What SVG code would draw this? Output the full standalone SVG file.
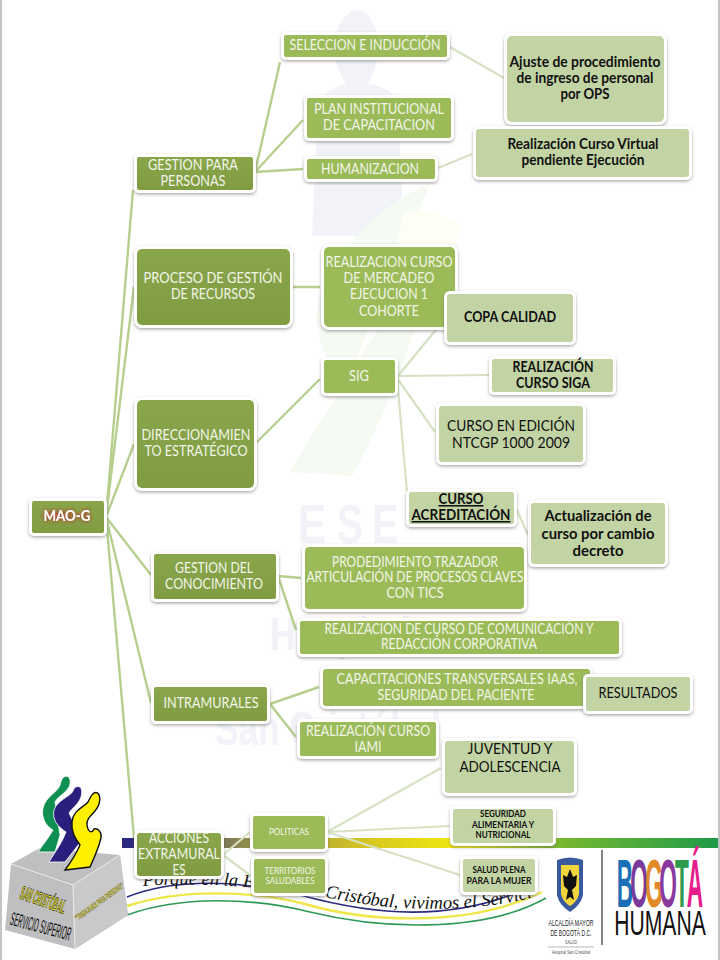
<svg xmlns="http://www.w3.org/2000/svg" width="720" height="960" viewBox="0 0 720 960">
<style>
text{font-family:"Lato","Liberation Sans",sans-serif;text-anchor:middle}
.n rect{stroke:#fff;stroke-width:6;paint-order:stroke;filter:url(#sh)}
.a rect{fill:url(#dk)}
.b rect{fill:#9bbb59}
.c rect{fill:#c3d4a4}
.a text,.b text{fill:#f2f5e8;font-size:15px}
.c text{fill:#111;font-size:15px;font-weight:700}
.c text.r{font-weight:400;font-size:16px}
.n text.s{font-size:8.5px}
.k{stroke:#b6cf8e;stroke-width:2.4;fill:none}
.l{stroke:#d6e2c3;stroke-width:2.2;fill:none}
.w{fill:#f2f3f8;font-family:"Liberation Sans",sans-serif;font-weight:700}
.ls{font-family:"Liberation Sans",sans-serif}
</style>
<defs>
<filter id="sh" x="-20%" y="-20%" width="140%" height="150%"><feDropShadow dx="0" dy="1.5" stdDeviation="1.5" flood-color="#555" flood-opacity=".5"/></filter>
<filter id="gl" x="-20%" y="-30%" width="140%" height="160%"><feGaussianBlur in="SourceAlpha" stdDeviation="2"/><feComponentTransfer result="a"><feFuncA type="linear" slope="1.6"/></feComponentTransfer><feFlood flood-color="#c0392b"/><feComposite in2="a" operator="in"/><feMerge><feMergeNode/><feMergeNode in="SourceGraphic"/></feMerge></filter>
<linearGradient id="dk" x1="0" y1="0" x2="0" y2="1"><stop offset="0" stop-color="#89a64b"/><stop offset="1" stop-color="#7f9c42"/></linearGradient>
<linearGradient id="bar" x1="0" y1="0" x2="1" y2="0"><stop offset="0" stop-color="#2b2a80"/><stop offset=".06" stop-color="#2b2a80"/><stop offset=".2" stop-color="#8f8a4e"/><stop offset=".42" stop-color="#d8c820"/><stop offset=".58" stop-color="#f4ee10"/><stop offset=".72" stop-color="#7dbb2e"/><stop offset="1" stop-color="#1f9a48"/></linearGradient>
<path id="arc" d="M143,886C230,880 300,893 370,905C420,911 480,911 535,897"/>
</defs>
<rect width="720" height="960" fill="#fff"/>
<rect x="0" y="0" width="2" height="960" fill="#c4c4c4"/>
<rect x="718" y="0" width="2" height="960" fill="#c4c4c4"/>

<g id="watermark">
<path d="M357,10C368,10 375,24 378,38C381,55 374,72 368,84C384,86 394,92 400,104L400,170C404,190 402,205 396,222L376,236L312,236L315,170L318,110C320,95 332,87 346,84C338,72 332,54 335,38C338,24 346,10 357,10Z" fill="#f2f3f8"/>
<path d="M430,184C385,200 335,250 318,300C312,330 325,360 345,385C360,350 400,300 440,250C425,300 395,400 352,476L290,472C320,420 345,385 345,385" fill="#f5faf3"/>
<path d="M402,214C420,205 440,215 458,224C460,245 448,260 436,270L395,255Z" fill="#fefef4"/>
<text class="w" x="312" y="543" font-size="55" textLength="28" lengthAdjust="spacingAndGlyphs">E</text>
<text class="w" x="350" y="543" font-size="55" textLength="26" lengthAdjust="spacingAndGlyphs">S</text>
<text class="w" x="385" y="543" font-size="55" textLength="26" lengthAdjust="spacingAndGlyphs">E</text>
<text class="w" x="340" y="650" font-size="46" textLength="140" lengthAdjust="spacingAndGlyphs">Hospital</text>
<text class="w" x="328" y="745" font-size="48" textLength="226" lengthAdjust="spacingAndGlyphs">San Cristóbal</text>
</g>

<g id="banner">
<rect x="122" y="838" width="596" height="10" fill="url(#bar)"/>
<path d="M127,897C170,880 230,878 300,895C370,914 450,925 535,885" fill="none" stroke="#2b2a80" stroke-width="1.6"/>
<path d="M127,906C180,889 250,890 305,904C370,923 470,927 542,892" fill="none" stroke="#efe64a" stroke-width="2.4"/>
<path d="M127,915C180,896 250,897 310,912C375,928 480,935 546,898" fill="none" stroke="#2f9a57" stroke-width="1.6"/>
<text font-size="18.5" font-style="italic" fill="#111" style="font-family:'Liberation Serif',serif;text-anchor:start"><textPath href="#arc">Porque en la E.S.E. San Cristóbal, vivimos el Servicio</textPath></text>
</g>

<g id="logo-san-cristobal">
<path d="M11,864L40,848L120,855L128,915L75,949L5,930Z" fill="#bfbfc1"/>
<path d="M73,885L120,855L128,915L75,949Z" fill="#c9c9cb"/>
<path d="M11,864L73,885L120,855M73,885L75,949" stroke="#ececec" stroke-width="1" fill="none"/>
<path d="M64,777C69,774 72,780 69,787C65,794 58,796 55,802L60,835L55,852L38,852C44,843 50,836 53,830C46,826 41,818 43,808C46,796 58,792 60,785C61,781 62,778 64,777Z" fill="#0f8f52" stroke="#fff" stroke-width=".8"/>
<path d="M76,787C81,785 83,790 81,797C78,805 72,808 69,813L82,840L65,862L49,862C55,852 62,843 66,832C58,827 52,820 54,810C57,800 70,797 73,791C74,788 75,787 76,787Z" fill="#2b1f7e" stroke="#fff" stroke-width=".8"/>
<path d="M94,793C99,791 101,797 99,804C96,814 86,816 87,825C88,832 92,834 94,829C98,828 102,832 101,838C98,850 94,858 90,867L65,870C71,862 76,854 80,845C75,838 71,832 72,822C73,810 83,808 88,802C90,798 91,795 94,793Z" fill="#fff000" stroke="#111" stroke-width="1.4"/>
<text class="ls" transform="translate(41,906) rotate(19)" font-size="19" font-weight="700" fill="#f4ea10" stroke="#222" stroke-width=".8" textLength="47" lengthAdjust="spacingAndGlyphs">SAN CRISTÓBAL</text>
<text class="ls" transform="translate(39,933) rotate(15)" font-size="20" font-weight="700" fill="#111" stroke="#fff" stroke-width=".4" textLength="62" lengthAdjust="spacingAndGlyphs">SERVICIO SUPERIOR</text>
<text class="ls" transform="translate(101,904) rotate(-36)" font-size="8" font-weight="700" fill="#d9cf10" stroke="#333" stroke-width=".3" textLength="58" lengthAdjust="spacingAndGlyphs">"TRABAJAMOS PARA PERSONAS"</text>
</g>

<g id="logo-bogota">
<path d="M557,860Q570,855 583,860L583,895Q581,905 570,912Q559,905 557,895Z" fill="#3a5a9f"/>
<path d="M561,865L579,865L579,894Q577,902 570,906Q563,902 561,894Z" fill="#f2d53c"/>
<path d="M570,869L573,877L577,875L576,886L572,890L574,900L570,897L566,900L568,890L564,886L563,875L567,877Z" fill="#111"/>
<text class="ls" x="571" y="926" font-size="9" fill="#222" textLength="45" lengthAdjust="spacingAndGlyphs">ALCALDÍA MAYOR</text>
<text class="ls" x="571" y="936" font-size="9" fill="#222" textLength="41" lengthAdjust="spacingAndGlyphs">DE BOGOTÁ D.C.</text>
<text class="ls" x="571" y="944" font-size="5" fill="#555" textLength="12" lengthAdjust="spacingAndGlyphs">SALUD</text>
<path d="M548,947H594" stroke="#888" stroke-width=".6"/>
<text class="ls" x="571" y="954" font-size="6" fill="#555" textLength="38" lengthAdjust="spacingAndGlyphs">Hospital San Cristóbal</text>
<path d="M602,850V945" stroke="#333" stroke-width="1.2"/>
<g class="ls" font-weight="700" font-size="54">
<text class="ls" transform="translate(625,907) scale(.42,1.27)" fill="#1b6fb8">B</text>
<text class="ls" transform="translate(639,907) scale(.42,1.27)" fill="#7a3a9c">O</text>
<text class="ls" transform="translate(654,907) scale(.42,1.27)" fill="#e08a2a">G</text>
<text class="ls" transform="translate(668,907) scale(.42,1.27)" fill="#8a3a9f">O</text>
<text class="ls" transform="translate(682,907) scale(.42,1.27)" fill="#2e9a4d">T</text>
<text class="ls" transform="translate(695,907) scale(.42,1.27)" fill="#e61e8c">Á</text>
</g>
<text class="ls" transform="translate(660,935) scale(.66,1.09)" font-size="32" fill="#111">HUMANA</text>
</g>

<g id="connectors">
<path class="k" d="M106,517L133,190M106,517L134,287M106,517L134,444M106,517L151,575M106,517L151,703M106,517L134,838"/>
<path class="k" d="M255,172L280,62M255,172L303,120M255,172L303,169"/>
<path class="l" d="M450,47L504,78M438,168L472,154"/>
<path class="k" d="M293,287H320M256,443L320,379"/>
<path class="l" d="M397,377L444,320M397,376L489,375M397,378L435,432M397,378L407,492M516,508L528,535"/>
<path class="k" d="M278,576L301,578M278,576L296,630M270,704L319,687M270,704L296,737"/>
<path class="l" d="M223,855L250,832M223,855L251,876M327,832L441,768M327,832L449,826M327,832L460,875"/>
</g>

<g id="mao-g" class="n a"><rect x="32" y="501" width="72" height="32" rx="2"/><text x="67" y="521" style="font-weight:700;fill:#fff" textLength="47" lengthAdjust="spacingAndGlyphs" filter="url(#gl)">MAO-G</text></g>

<g id="gestion-personas" class="n a"><rect x="137" y="157" width="116" height="33" rx="2"/><text x="193" y="170" textLength="90" lengthAdjust="spacingAndGlyphs">GESTION PARA</text><text x="193" y="186" textLength="65" lengthAdjust="spacingAndGlyphs">PERSONAS</text></g>
<g id="seleccion" class="n b"><rect x="284" y="35" width="163" height="22" rx="2"/><text x="365" y="50" textLength="151" lengthAdjust="spacingAndGlyphs">SELECCION E INDUCCIÓN</text></g>
<g id="plan" class="n b"><rect x="307" y="98" width="144" height="40" rx="2"/><text x="379" y="114" textLength="130" lengthAdjust="spacingAndGlyphs">PLAN INSTITUCIONAL</text><text x="379" y="130" textLength="112" lengthAdjust="spacingAndGlyphs">DE CAPACITACION</text></g>
<g id="humanizacion" class="n b"><rect x="307" y="159" width="128" height="20" rx="2"/><text x="370" y="174" textLength="98" lengthAdjust="spacingAndGlyphs">HUMANIZACION</text></g>
<g id="ajuste" class="n c"><rect x="507" y="36" width="157" height="86" rx="5"/><text x="585" y="67" textLength="151" lengthAdjust="spacingAndGlyphs">Ajuste de procedimiento</text><text x="585" y="83" textLength="137" lengthAdjust="spacingAndGlyphs">de ingreso de personal</text><text x="585" y="99" textLength="49" lengthAdjust="spacingAndGlyphs">por OPS</text></g>
<g id="virtual" class="n c"><rect x="476" y="129" width="213" height="48" rx="3"/><text x="583" y="149" textLength="151" lengthAdjust="spacingAndGlyphs">Realización Curso  Virtual</text><text x="583" y="165" textLength="123" lengthAdjust="spacingAndGlyphs">pendiente Ejecución</text></g>

<g id="proceso" class="n a"><rect x="137" y="249" width="153" height="76" rx="5"/><text x="213" y="283" textLength="139" lengthAdjust="spacingAndGlyphs">PROCESO  DE GESTIÓN</text><text x="213" y="299" textLength="84" lengthAdjust="spacingAndGlyphs">DE RECURSOS</text></g>
<g id="mercadeo" class="n b"><rect x="324" y="247" width="131" height="80" rx="5"/><text x="389" y="267" textLength="127" lengthAdjust="spacingAndGlyphs">REALIZACION CURSO</text><text x="389" y="283" textLength="91" lengthAdjust="spacingAndGlyphs">DE MERCADEO</text><text x="389" y="299" textLength="78" lengthAdjust="spacingAndGlyphs">EJECUCION 1</text><text x="389" y="316" textLength="60" lengthAdjust="spacingAndGlyphs">COHORTE</text></g>
<g id="direccionamiento" class="n a"><rect x="137" y="400" width="117" height="88" rx="5"/><text x="196" y="440" textLength="109" lengthAdjust="spacingAndGlyphs">DIRECCIONAMIEN</text><text x="196" y="456" textLength="103" lengthAdjust="spacingAndGlyphs">TO ESTRATÉGICO</text></g>
<g id="sig" class="n b"><rect x="324" y="360" width="71" height="33" rx="2"/><text x="359" y="381" textLength="20" lengthAdjust="spacingAndGlyphs">SIG</text></g>
<g id="copa" class="n c"><rect x="447" y="294" width="126" height="48" rx="3"/><text x="510" y="322" textLength="92" lengthAdjust="spacingAndGlyphs">COPA CALIDAD</text></g>
<g id="siga" class="n c"><rect x="492" y="359" width="121" height="33" rx="2"/><text x="553" y="372" textLength="81" lengthAdjust="spacingAndGlyphs">REALIZACIÓN</text><text x="553" y="388" textLength="74" lengthAdjust="spacingAndGlyphs">CURSO SIGA</text></g>
<g id="edicion" class="n c"><rect x="439" y="406" width="144" height="56" rx="3"/><text class="r" x="511" y="431" textLength="128" lengthAdjust="spacingAndGlyphs">CURSO EN EDICIÓN</text><text class="r" x="511" y="448" textLength="118" lengthAdjust="spacingAndGlyphs">NTCGP  1000 2009</text></g>
<g id="acreditacion" class="n c"><rect x="409" y="492" width="105" height="32" rx="2"/><text x="461" y="504" style="text-decoration:underline;font-size:15.5px" textLength="45" lengthAdjust="spacingAndGlyphs">CURSO</text><text x="461" y="520" style="text-decoration:underline;font-size:15.5px" textLength="99" lengthAdjust="spacingAndGlyphs">ACREDITACIÓN</text></g>
<g id="actualizacion" class="n c"><rect x="531" y="503" width="134" height="61" rx="3"/><text x="598" y="521" textLength="107" lengthAdjust="spacingAndGlyphs">Actualización de</text><text x="598" y="539" textLength="113" lengthAdjust="spacingAndGlyphs">curso por cambio</text><text x="598" y="556" textLength="51" lengthAdjust="spacingAndGlyphs">decreto</text></g>

<g id="gestion-conocimiento" class="n a"><rect x="154" y="554" width="122" height="45" rx="2"/><text x="214" y="573" textLength="78" lengthAdjust="spacingAndGlyphs">GESTION DEL</text><text x="214" y="589" textLength="98" lengthAdjust="spacingAndGlyphs">CONOCIMIENTO</text></g>
<g id="prodedimiento" class="n b"><rect x="305" y="547" width="219" height="62" rx="4"/><text x="415" y="567" textLength="166" lengthAdjust="spacingAndGlyphs">PRODEDIMIENTO TRAZADOR</text><text x="415" y="582" textLength="217" lengthAdjust="spacingAndGlyphs">ARTICULACIÓN DE PROCESOS  CLAVES</text><text x="415" y="598" textLength="57" lengthAdjust="spacingAndGlyphs">CON  TICS</text></g>
<g id="redaccion" class="n b"><rect x="300" y="621" width="319" height="33" rx="2"/><text x="459" y="634" textLength="269" lengthAdjust="spacingAndGlyphs">REALIZACION DE CURSO DE  COMUNICACIÓN Y</text><text x="459" y="649" textLength="156" lengthAdjust="spacingAndGlyphs">REDACCIÓN CORPORATIVA</text></g>
<g id="intramurales" class="n a"><rect x="154" y="687" width="113" height="34" rx="2"/><text x="211" y="708" textLength="95" lengthAdjust="spacingAndGlyphs">INTRAMURALES</text></g>
<g id="capacitaciones" class="n b"><rect x="323" y="669" width="267" height="37" rx="3"/><text x="457" y="684" textLength="241" lengthAdjust="spacingAndGlyphs">CAPACITACIONES TRANSVERSALES IAAS,</text><text x="456" y="700" textLength="157" lengthAdjust="spacingAndGlyphs">SEGURIDAD DEL PACIENTE</text></g>
<g id="resultados" class="n c"><rect x="586" y="677" width="104" height="34" rx="2"/><text x="638" y="698" style="font-weight:400" textLength="79" lengthAdjust="spacingAndGlyphs">RESULTADOS</text></g>
<g id="iami" class="n b"><rect x="300" y="722" width="136" height="34" rx="2"/><text x="368" y="736" textLength="124" lengthAdjust="spacingAndGlyphs">REALIZACIÓN CURSO</text><text x="368" y="752" textLength="27" lengthAdjust="spacingAndGlyphs">IAMI</text></g>

<g id="acciones" class="n a"><rect x="137" y="833" width="84" height="43" rx="3"/><text x="179" y="843" textLength="60" lengthAdjust="spacingAndGlyphs">ACCIONES</text><text x="179" y="859" textLength="82" lengthAdjust="spacingAndGlyphs">EXTRAMURAL</text><text x="179" y="875" textLength="13" lengthAdjust="spacingAndGlyphs">ES</text></g>
<g id="politicas" class="n b"><rect x="253" y="816" width="72" height="33" rx="2"/><text class="s" x="289" y="835" textLength="40" lengthAdjust="spacingAndGlyphs">POLITICAS</text></g>
<g id="territorios" class="n b"><rect x="254" y="859" width="71" height="34" rx="2"/><text class="s" x="290" y="874" textLength="51" lengthAdjust="spacingAndGlyphs">TERRITORIOS</text><text class="s" x="290" y="884" textLength="49" lengthAdjust="spacingAndGlyphs">SALUDABLES</text></g>
<g id="juventud" class="n c"><rect x="445" y="741" width="129" height="52" rx="3"/><text class="r" x="510" y="754" textLength="85" lengthAdjust="spacingAndGlyphs">JUVENTUD Y</text><text class="r" x="510" y="772" textLength="101" lengthAdjust="spacingAndGlyphs">ADOLESCENCIA</text></g>
<g id="seguridad" class="n c"><rect x="453" y="809" width="100" height="34" rx="2"/><text class="s" x="503" y="817" textLength="46" lengthAdjust="spacingAndGlyphs">SEGURIDAD</text><text class="s" x="503" y="828" textLength="62" lengthAdjust="spacingAndGlyphs">ALIMENTARIA Y</text><text class="s" x="503" y="838" textLength="55" lengthAdjust="spacingAndGlyphs">NUTRICIONAL</text></g>
<g id="salud" class="n c"><rect x="463" y="859" width="72" height="33" rx="2"/><text class="s" x="499" y="873" textLength="53" lengthAdjust="spacingAndGlyphs">SALUD PLENA</text><text class="s" x="499" y="884" textLength="65" lengthAdjust="spacingAndGlyphs">PARA LA  MUJER</text></g>
</svg>
